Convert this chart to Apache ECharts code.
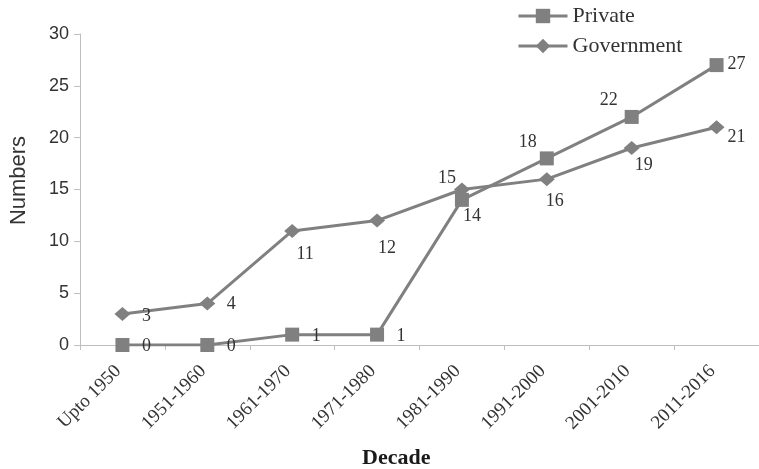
<!DOCTYPE html>
<html>
<head>
<meta charset="utf-8">
<script src="https://cdn.jsdelivr.net/npm/echarts@6/dist/echarts.min.js"></script>
<style>
  html, body { margin: 0; padding: 0; background: #fff; }
  #chart { width: 759px; height: 469px; }
</style>
</head>
<body>
<div id="chart"></div>
<script>
const categories = ['Upto 1950', '1951-1960', '1961-1970', '1971-1980', '1981-1990', '1991-2000', '2001-2010', '2011-2016'];
const privateValues = [0, 0, 1, 1, 14, 18, 22, 27];
const governmentValues = [3, 4, 11, 12, 15, 16, 19, 21];
const seriesNames = ['Private', 'Government'];
const yTicks = { min: 0, max: 30, interval: 5 };

// label placement (offset from marker centre), kept apart from the data
const privateLabelOffsets = [[24, 1], [24, 1], [24, 2], [24, 2], [10, 16], [-19, -16], [-23, -17], [20, -1]];
const governmentLabelOffsets = [[24, 2], [24, 1], [13, 23], [10, 28], [-15, -11], [8, 22], [12, 17], [20, 10]];

const grey = '#808080';
const textGrey = '#333333';
const serif = 'Liberation Serif';
const sans = 'Liberation Sans';

function buildData(values, offsets) {
  return values.map((v, i) => ({
    value: v,
    label: { offset: offsets[i] }
  }));
}

const chart = echarts.init(document.getElementById('chart'), null, { renderer: 'canvas' });

const labelBase = {
  show: true,
  position: 'inside',
  fontFamily: serif,
  fontSize: 18,
  color: textGrey
};

chart.setOption({
  animation: false,
  backgroundColor: '#ffffff',
  grid: { left: 76, top: 34, width: 688, height: 311, containLabel: false },
  legend: {
    data: seriesNames,
    orient: 'vertical',
    left: 517,
    top: 5,
    padding: 0,
    itemWidth: 49,
    itemHeight: 18,
    itemGap: 8,
    lineStyle: { width: 3, color: grey },
    textStyle: { fontFamily: serif, fontSize: 22, color: textGrey }
  },
  xAxis: {
    type: 'category',
    data: categories,
    boundaryGap: true,
    axisLine: { lineStyle: { color: '#bfbfbf', width: 1 } },
    axisTick: { show: true, length: 5, lineStyle: { color: '#bfbfbf' } },
    axisLabel: {
      rotate: 45,
      interval: 0,
      margin: 19,
      padding: [0, 6, 0, 0],
      fontFamily: serif,
      fontSize: 19,
      color: textGrey
    },
    splitLine: { show: false }
  },
  yAxis: {
    type: 'value',
    min: yTicks.min,
    max: yTicks.max,
    interval: yTicks.interval,
    name: 'Numbers',
    nameLocation: 'middle',
    nameGap: 50,
    nameTextStyle: { fontFamily: sans, fontSize: 22, color: textGrey, padding: [0, 0, 0, 18] },
    axisLine: { show: true, lineStyle: { color: '#bfbfbf', width: 1 } },
    axisTick: { show: true, length: 6, lineStyle: { color: '#bfbfbf' } },
    axisLabel: { margin: 11, fontFamily: sans, fontSize: 18, color: textGrey },
    splitLine: { show: false }
  },
  graphic: [{
    type: 'text',
    left: 362,
    top: 447,
    style: { text: 'Decade', font: 'bold 22px "Liberation Serif"', fill: '#1a1a1a' }
  }],
  series: [
    {
      name: seriesNames[0],
      type: 'line',
      data: buildData(privateValues, privateLabelOffsets),
      symbol: 'rect',
      symbolSize: 14,
      showAllSymbol: true,
      lineStyle: { color: grey, width: 3 },
      itemStyle: { color: grey },
      label: labelBase,
      z: 3
    },
    {
      name: seriesNames[1],
      type: 'line',
      data: buildData(governmentValues, governmentLabelOffsets),
      symbol: 'diamond',
      symbolSize: [16, 14],
      showAllSymbol: true,
      lineStyle: { color: grey, width: 3 },
      itemStyle: { color: grey },
      label: labelBase,
      z: 2
    }
  ]
});
</script>
</body>
</html>
